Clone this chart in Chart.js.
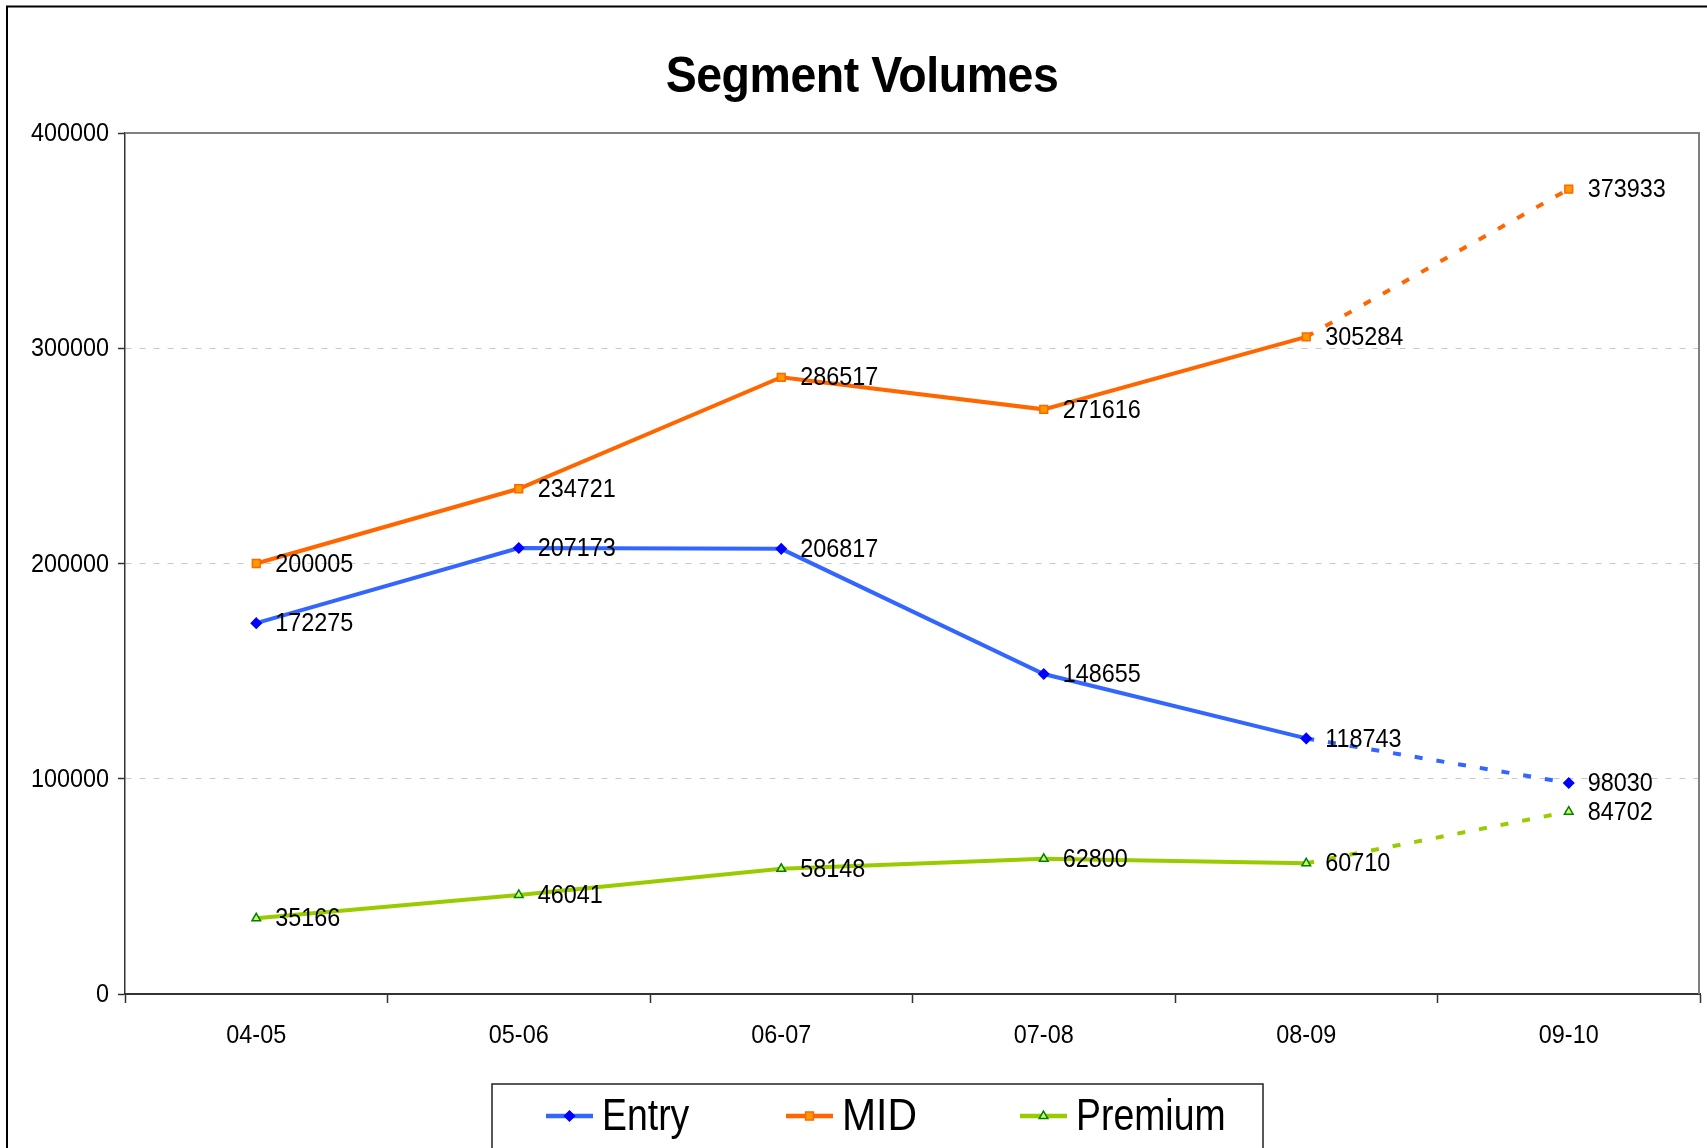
<!DOCTYPE html>
<html>
<head>
<meta charset="utf-8">
<script src="https://cdn.jsdelivr.net/npm/chart.js@4.4.1/dist/chart.umd.min.js"></script>
<style>
html,body{margin:0;padding:0;background:#fff;overflow:hidden;}
canvas{display:block;}
</style>
</head>
<body>
<canvas id="c" width="1707" height="1148"></canvas>
<script>
const categories = ['04-05', '05-06', '06-07', '07-08', '08-09', '09-10'];
const entryValues = [172275, 207173, 206817, 148655, 118743, 98030];
const midValues = [200005, 234721, 286517, 271616, 305284, 373933];
const premiumValues = [35166, 46041, 58148, 62800, 60710, 84702];
const seriesNames = ['Entry', 'MID', 'Premium'];
const yTicks = [0, 100000, 200000, 300000, 400000];
const chartTitle = 'Segment Volumes';

const FONT = "'Liberation Sans', Arial, sans-serif";
const DASH_LAST = [8, 14];
const LEGEND_ITEM_X = [546, 786, 1020];

function makeSet(label, data, line, ptBorder, ptFill, style, radius) {
  return {
    label, data,
    borderColor: line, backgroundColor: line,
    borderWidth: 4,
    pointStyle: style, pointRadius: radius, pointHoverRadius: radius,
    pointBorderColor: ptBorder, pointBackgroundColor: ptFill, pointBorderWidth: 1.5,
    tension: 0, fill: false,
    borderCapStyle: 'butt',
    segment: { borderDash: ctx => ctx.p1DataIndex === data.length - 1 ? DASH_LAST : undefined }
  };
}

function squeezeText(ctx, text, x, y, align, sx) {
  ctx.save();
  ctx.translate(x, y);
  ctx.scale(sx, 1);
  ctx.textAlign = align;
  ctx.fillText(text, 0, 0);
  ctx.restore();
}

const frame = {
  id: 'frame',
  beforeDraw(chart) {
    const ctx = chart.ctx;
    ctx.save();
    ctx.strokeStyle = '#000';
    ctx.lineWidth = 2;
    ctx.beginPath();
    ctx.moveTo(7, 1148); ctx.lineTo(7, 6.5); ctx.lineTo(1707, 6.5);
    ctx.stroke();
    // title
    ctx.fillStyle = '#000';
    ctx.font = 'bold 50px ' + FONT;
    ctx.textBaseline = 'middle';
    ctx.letterSpacing = '-0.5px';
    squeezeText(ctx, chartTitle, 862, 78, 'center', 0.93);
    ctx.restore();
  },
  beforeDatasetsDraw(chart) {
    const a = chart.chartArea, ctx = chart.ctx;
    ctx.save();
    ctx.strokeStyle = '#808080';
    ctx.lineWidth = 2;
    ctx.beginPath();
    ctx.moveTo(a.left, a.top); ctx.lineTo(a.right - 1, a.top); ctx.lineTo(a.right - 1, a.bottom);
    ctx.stroke();
    // axis tick labels
    ctx.fillStyle = '#000';
    ctx.font = '26px ' + FONT;
    ctx.textBaseline = 'middle';
    const xs = chart.scales.x, ys = chart.scales.y;
    xs.ticks.forEach((t, i) => {
      squeezeText(ctx, xs.getLabelForValue(t.value), xs.getPixelForTick(i), 1036, 'center', 0.9);
    });
    ys.ticks.forEach((t, i) => {
      squeezeText(ctx, String(t.value), ys.left + ys.width - 16, ys.getPixelForTick(i) + 1, 'right', 0.9);
    });
    ctx.restore();
  }
};

const dataLabels = {
  id: 'dataLabels',
  afterDatasetsDraw(chart) {
    const ctx = chart.ctx;
    ctx.save();
    ctx.font = '26px ' + FONT;
    ctx.fillStyle = '#000';
    ctx.textBaseline = 'middle';
    chart.data.datasets.forEach((ds, i) => {
      const meta = chart.getDatasetMeta(i);
      meta.data.forEach((p, j) => {
        squeezeText(ctx, String(ds.data[j]), p.x + 19, p.y + 1, 'left', 0.9);
      });
    });
    ctx.restore();
  }
};

const boxLegend = {
  id: 'boxLegend',
  afterDraw(chart) {
    const ctx = chart.ctx;
    ctx.save();
    ctx.strokeStyle = '#222';
    ctx.lineWidth = 1.5;
    ctx.strokeRect(492, 1084, 771, 100);
    ctx.font = '44px ' + FONT;
    ctx.textBaseline = 'middle';
    const cy = 1116;
    chart.data.datasets.forEach((ds, i) => {
      const x = LEGEND_ITEM_X[i];
      ctx.strokeStyle = ds.borderColor;
      ctx.lineWidth = 4.5;
      ctx.setLineDash([]);
      ctx.beginPath();
      ctx.moveTo(x, cy); ctx.lineTo(x + 47, cy);
      ctx.stroke();
      ctx.fillStyle = ds.pointBackgroundColor;
      ctx.strokeStyle = ds.pointBorderColor;
      ctx.lineWidth = ds.pointBorderWidth;
      Chart.helpers.drawPoint(ctx, { pointStyle: ds.pointStyle, radius: ds.pointRadius, borderWidth: ds.pointBorderWidth, rotation: 0 }, x + 23.5, cy);
      ctx.fillStyle = '#000';
      squeezeText(ctx, ds.label, x + 56, cy + 2, 'left', ds.label === 'MID' ? 0.93 : 0.85);
    });
    ctx.restore();
  }
};

new Chart(document.getElementById('c'), {
  type: 'line',
  data: {
    labels: categories,
    datasets: [
      makeSet(seriesNames[0], entryValues, '#3366FF', '#0000FF', '#0000FF', 'rectRot', 5),
      makeSet(seriesNames[1], midValues, '#FF6600', '#FF6600', '#FF9900', 'rect', 5.5),
      makeSet(seriesNames[2], premiumValues, '#99CC00', '#008000', '#CCFF66', 'triangle', 5)
    ]
  },
  options: {
    responsive: false,
    animation: false,
    events: [],
    layout: { padding: { left: 24, right: 7, top: 133, bottom: 0 } },
    plugins: {
      legend: { display: false },
      tooltip: { enabled: false },
      title: { display: false, text: chartTitle }
    },
    scales: {
      x: {
        type: 'category',
        offset: true,
        grid: { display: true, drawOnChartArea: false, drawTicks: true, tickLength: 9, tickColor: '#333', tickWidth: 1.5, offset: true },
        border: { display: true, color: '#333', width: 2 },
        ticks: { display: false, autoSkip: false },
        afterFit: (s) => { s.height = 154; }
      },
      y: {
        min: 0, max: 400000,
        afterBuildTicks: (s) => { s.ticks = yTicks.map(v => ({ value: v })); },
        grid: {
          color: (c) => (c.tick && (c.tick.value === 0 || c.tick.value === 400000)) ? 'rgba(0,0,0,0)' : '#c8c8c8',
          lineWidth: 1,
          drawTicks: true, tickLength: 7, tickColor: '#333', tickWidth: 1.5, tickBorderDash: []
        },
        border: { display: true, color: '#333', width: 1.5, dash: [6, 8] },
        ticks: { display: false },
        afterFit: (s) => { s.width = 101; }
      }
    }
  },
  plugins: [frame, dataLabels, boxLegend]
});
</script>
</body>
</html>
